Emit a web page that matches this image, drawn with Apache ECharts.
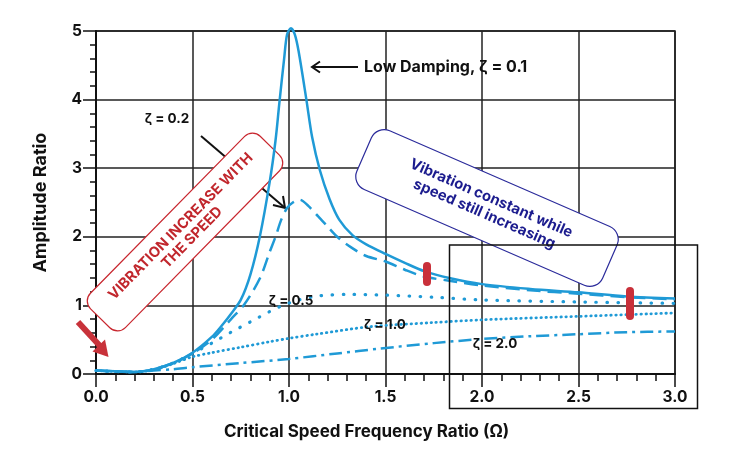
<!DOCTYPE html>
<html>
<head>
<meta charset="utf-8">
<script src="https://cdn.jsdelivr.net/npm/echarts@6/dist/echarts.min.js"></script>
<style>
html, body { margin: 0; padding: 0; background: #fff; }
#chart { width: 751px; height: 461px; }
</style>
</head>
<body>
<div id="chart"></div>
<script>
// values
var xTicks = [0, 0.5, 1.0, 1.5, 2.0, 2.5, 3.0];
var yTicks = [0, 1, 2, 3, 4, 5];

// zeta = 0.1 (solid)
var ratio01 = [0, 0.1, 0.2, 0.3, 0.4, 0.5, 0.6, 0.65, 0.7, 0.75, 0.8, 0.85, 0.9, 0.93, 0.95, 0.975, 0.99, 1.01, 1.03, 1.05, 1.09, 1.12, 1.16, 1.21, 1.26, 1.33, 1.4, 1.5, 1.6, 1.7, 1.83, 2.0, 2.25, 2.5, 2.75, 3.0];
var amp01 = [0.05, 0.04, 0.03, 0.07, 0.16, 0.31, 0.54, 0.70, 0.88, 1.08, 1.45, 2.02, 2.80, 3.40, 3.95, 4.60, 4.95, 5.04, 4.95, 4.70, 4.00, 3.45, 2.97, 2.55, 2.25, 2.02, 1.89, 1.75, 1.62, 1.50, 1.40, 1.31, 1.24, 1.19, 1.13, 1.10];

// zeta = 0.2 (dashed)
var ratio02 = [0, 0.1, 0.2, 0.3, 0.4, 0.5, 0.6, 0.7, 0.77, 0.85, 0.9, 0.93, 0.96, 0.99, 1.02, 1.056, 1.1, 1.15, 1.2, 1.25, 1.32, 1.4, 1.5, 1.6, 1.7, 1.83, 2.0, 2.25, 2.5, 2.75, 3.0];
var amp02 = [0.05, 0.04, 0.03, 0.07, 0.16, 0.30, 0.50, 0.80, 1.02, 1.40, 1.78, 2.00, 2.25, 2.42, 2.50, 2.54, 2.45, 2.30, 2.15, 2.00, 1.85, 1.72, 1.64, 1.52, 1.42, 1.36, 1.29, 1.22, 1.17, 1.12, 1.09];

// zeta = 0.5 (sparse dots)
var ratio05 = [0, 0.2, 0.3, 0.4, 0.5, 0.6, 0.7, 0.8, 0.9, 0.96, 1.05, 1.16, 1.3, 1.5, 1.75, 2.0, 2.5, 3.0];
var amp05 = [0.05, 0.03, 0.07, 0.16, 0.30, 0.45, 0.61, 0.76, 0.91, 0.99, 1.08, 1.14, 1.16, 1.15, 1.12, 1.08, 1.05, 1.03];

// zeta = 1.0 (dense dots)
var ratio10 = [0, 0.2, 0.3, 0.4, 0.5, 0.6, 0.75, 0.9, 1.0, 1.14, 1.42, 1.75, 2.0, 2.5, 3.0];
var amp10 = [0.05, 0.03, 0.06, 0.15, 0.25, 0.31, 0.39, 0.47, 0.52, 0.58, 0.69, 0.75, 0.79, 0.84, 0.89];

// zeta = 2.0 (dash-dot)
var ratio20 = [0, 0.2, 0.3, 0.4, 0.5, 0.75, 1.0, 1.25, 1.47, 1.75, 2.0, 2.25, 2.5, 2.75, 3.0];
var amp20 = [0.05, 0.03, 0.05, 0.07, 0.10, 0.16, 0.22, 0.30, 0.37, 0.45, 0.51, 0.55, 0.58, 0.61, 0.62];

var blue = '#1f9ad6';
var fontName = 'Inter, "Noto Sans", sans-serif';

function pairs(xs, ys) {
    var out = [];
    for (var i = 0; i < xs.length; i++) {
        out.push([xs[i], ys[i]]);
    }
    return out;
}

function curve(name, xs, ys, type, width, cap) {
    return {
        name: name,
        type: 'line',
        data: pairs(xs, ys),
        showSymbol: false,
        smooth: 0.3,
        clip: false,
        z: 5,
        lineStyle: { color: blue, width: width, type: type, cap: cap || 'butt' }
    };
}

function label(text, x, y, size) {
    return {
        type: 'text', z: 8,
        style: {
            text: text, x: x, y: y,
            align: 'center', verticalAlign: 'middle',
            textAlign: 'center', textVerticalAlign: 'middle',
            fontFamily: fontName, fontWeight: 'bold', fontSize: size || 13.5, fill: '#111'
        }
    };
}

var myChart = echarts.init(document.getElementById('chart'));
var option = {
    animation: false,
    backgroundColor: '#fff',
    grid: {
        left: 96, right: 76, top: 31, bottom: 87,
        show: true, borderColor: '#111', borderWidth: 1.5
    },
    xAxis: {
        type: 'value',
        min: xTicks[0], max: xTicks[xTicks.length - 1], interval: xTicks[1] - xTicks[0],
        name: 'Critical Speed Frequency Ratio (Ω)',
        nameLocation: 'middle', nameGap: 49,
        nameTextStyle: { fontFamily: fontName, fontWeight: 'bold', fontSize: 17, color: '#111', padding: [0, 38, 0, 0] },
        axisLine: { lineStyle: { color: '#111', width: 2 } },
        axisTick: { length: 13, lineStyle: { color: '#111', width: 1.5 } },
        minorTick: { show: true, splitNumber: 5, length: 7, lineStyle: { color: '#111', width: 1.5 } },
        splitLine: { lineStyle: { color: '#222', width: 1.5 } },
        axisLabel: {
            margin: 15, fontFamily: fontName, fontWeight: 'bold', fontSize: 15.5, color: '#111',
            formatter: function (v) { return v.toFixed(1); }
        }
    },
    yAxis: {
        type: 'value',
        min: yTicks[0], max: yTicks[yTicks.length - 1], interval: yTicks[1] - yTicks[0],
        name: 'Amplitude Ratio',
        nameLocation: 'middle', nameGap: 46,
        nameTextStyle: { fontFamily: fontName, fontWeight: 'bold', fontSize: 18, color: '#111' },
        axisLine: { show: true, lineStyle: { color: '#111', width: 2 } },
        axisTick: { show: true, length: 13, lineStyle: { color: '#111', width: 1.5 } },
        minorTick: { show: true, splitNumber: 5, length: 6, lineStyle: { color: '#111', width: 1.5 } },
        splitLine: { lineStyle: { color: '#222', width: 1.5 } },
        axisLabel: { margin: 14, fontFamily: fontName, fontWeight: 'bold', fontSize: 15.5, color: '#111' }
    },
    series: [
        curve('ζ = 2.0', ratio20, amp20, [13, 5, 3, 5], 2.5),
        curve('ζ = 1.0', ratio10, amp10, [0.5, 4.5], 2.8, 'round'),
        curve('ζ = 0.5', ratio05, amp05, [0.5, 10.5], 3.2, 'round'),
        curve('ζ = 0.2', ratio02, amp02, [14, 7], 2.5),
        curve('ζ = 0.1', ratio01, amp01, 'solid', 2.5)
    ],
    graphic: [
        // pointer for zeta 0.2 (runs under the red box)
        { type: 'line', z: 2, shape: { x1: 201, y1: 136, x2: 284, y2: 207 }, style: { stroke: '#111', lineWidth: 2 } },
        { type: 'polyline', z: 2, shape: { points: [[273, 205], [285, 208], [283, 196]] }, style: { stroke: '#111', lineWidth: 2, fill: null } },
        // red box
        {
            type: 'group', x: 185, y: 232, rotation: 45.5 * Math.PI / 180, z: 3,
            children: [
                { type: 'rect', z: 3, shape: { x: -121, y: -24.5, width: 242, height: 49, r: 11 }, style: { fill: '#fff', stroke: '#c8262e', lineWidth: 1.2 } },
                {
                    type: 'text', z: 4,
                    style: {
                        text: 'VIBRATION INCREASE WITH\nTHE SPEED', x: 1, y: 1,
                        align: 'center', verticalAlign: 'middle', textAlign: 'center', textVerticalAlign: 'middle',
                        fontFamily: fontName, fontWeight: 'bold', fontSize: 14.5, lineHeight: 16, fill: '#c1272d'
                    }
                }
            ]
        },
        // blue box
        {
            type: 'group', x: 487, y: 208, rotation: -23.5 * Math.PI / 180, z: 3,
            children: [
                { type: 'rect', z: 3, shape: { x: -134, y: -32, width: 268, height: 64, r: 14 }, style: { fill: '#fff', stroke: '#2b2b9b', lineWidth: 1.2 } },
                {
                    type: 'text', z: 4,
                    style: {
                        text: 'Vibration constant while\nspeed still increasing', x: 0, y: -2,
                        align: 'center', verticalAlign: 'middle', textAlign: 'center', textVerticalAlign: 'middle',
                        fontFamily: fontName, fontWeight: 'bold', fontSize: 14.8, lineHeight: 17, fill: '#1c1c8e'
                    }
                }
            ]
        },
        // low damping arrow
        { type: 'line', z: 8, shape: { x1: 358, y1: 67, x2: 312, y2: 67 }, style: { stroke: '#111', lineWidth: 2 } },
        { type: 'polyline', z: 8, shape: { points: [[320, 61.5], [312, 67], [320, 72.5]] }, style: { stroke: '#111', lineWidth: 2, fill: null } },
        {
            type: 'text', z: 8,
            style: {
                text: 'Low Damping, ζ = 0.1', x: 364, y: 67,
                align: 'left', verticalAlign: 'middle', textAlign: 'left', textVerticalAlign: 'middle',
                fontFamily: fontName, fontWeight: 'bold', fontSize: 16, fill: '#111'
            }
        },
        label('ζ = 0.2', 167, 119),
        label('ζ = 0.5', 291, 301),
        label('ζ = 1.0', 385, 325),
        label('ζ = 2.0', 495, 344),
        // red arrow at origin
        { type: 'line', z: 9, shape: { x1: 78, y1: 322, x2: 100, y2: 346 }, style: { stroke: '#c8323a', lineWidth: 6 } },
        { type: 'polygon', z: 9, shape: { points: [[108.5, 357], [92.5, 351.5], [105, 339.5]] }, style: { fill: '#c8323a' } },
        // red markers on the curve
        { type: 'rect', z: 10, shape: { x: 423, y: 262, width: 8, height: 24, r: 4 }, style: { fill: '#c9303a' } },
        { type: 'rect', z: 10, shape: { x: 626, y: 287, width: 8, height: 33, r: 4 }, style: { fill: '#c9303a' } },
        // outline box lower right
        { type: 'rect', z: 7, shape: { x: 449.5, y: 245, width: 248, height: 163.5 }, style: { fill: null, stroke: '#111', lineWidth: 1.5 } }
    ]
};

myChart.setOption(option);
window.addEventListener('resize', function () {
    myChart.resize();
});
</script>
</body>
</html>
